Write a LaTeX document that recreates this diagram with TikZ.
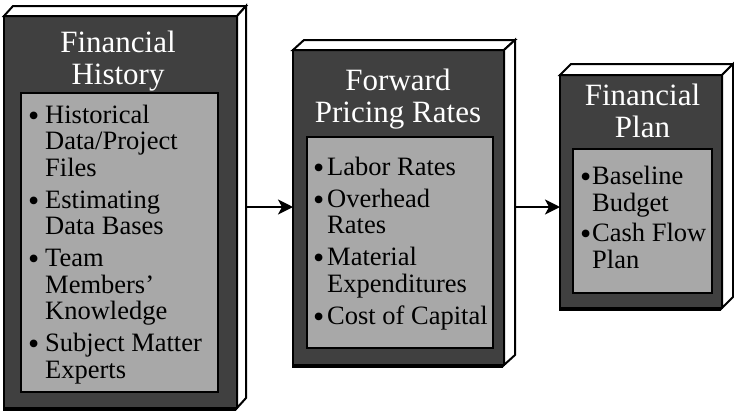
\documentclass[tikz,border=0pt]{standalone}
\usepackage{fontspec}
\setmainfont{Liberation Serif}
\usetikzlibrary{arrows.meta,calc}
\definecolor{facegray}{HTML}{404040}
\definecolor{innergray}{HTML}{A8A8A8}
\newcommand{\titlelines}[1]{\begin{tabular}[t]{@{}c@{}}#1\end{tabular}}
\newcommand{\itemlines}[1]{\begin{tabular}[t]{@{}l@{}}#1\end{tabular}}
\newcommand{\bigbul}[1]{\makebox[#1][l]{\smash{\raisebox{-3pt}{\fontsize{32}{32}\selectfont •}}}}
\tikzset{
  front/.style={draw=black,line width=2pt,fill=facegray,inner sep=0,outer sep=0,rectangle},
  inner/.style={draw=black,line width=2pt,fill=innergray,inner sep=0,outer sep=0,rectangle},
  panel/.style={draw=black,line width=2pt,fill=white,line join=miter},
  shadowbox/.style={fill=black},
  title/.style={anchor=base,inner sep=0,text=white,font=\fontsize{31}{32}\selectfont},
  itemtext/.style={anchor=base west,inner sep=0,font=\fontsize{26.5}{26.5}\selectfont},
  flow/.style={line width=2pt,-{Stealth[length=15pt,width=15pt,inset=4pt]}}
}
\begin{document}
\begin{tikzpicture}[x=1pt,y=-1pt]
\useasboundingbox (0,0) rectangle (734,413);
% ---------- Box 1 ----------
\fill[shadowbox] (3,19) rectangle (236,411);
\node[front,minimum width=233pt,minimum height=392pt] (fh) at (120.5,212) {};
\draw[panel] (fh.north west) -- ++(9,-10) -- ($(fh.north east)+(9,-10)$) -- (fh.north east) -- cycle;
\draw[panel] (fh.north east) -- ++(9,-10) -- ($(fh.south east)+(9,-10)$) -- (fh.south east) -- cycle;
\node[inner,minimum width=197pt,minimum height=299pt] (fhi) at (119.5,242.5) {};
\node[title] (fht) at (118,52) {\titlelines{Financial\\History}};
\node[itemtext] (fh1) at (28,123) {\itemlines{\bigbul{17pt}Historical\\\hspace*{17pt}Data/Project\\\hspace*{17pt}Files}};
\node[itemtext] (fh2) at (28,208) {\itemlines{\bigbul{17pt}Estimating\\\hspace*{17pt}Data Bases}};
\node[itemtext] (fh3) at (28,266.5) {\itemlines{\bigbul{17pt}Team\\\hspace*{17pt}Members’\\\hspace*{17pt}Knowledge}};
\node[itemtext] (fh4) at (28,351.5) {\itemlines{\bigbul{17pt}Subject Matter\\\hspace*{17pt}Experts}};
% ---------- Box 2 ----------
\fill[shadowbox] (292,53) rectangle (503,368);
\node[front,minimum width=211pt,minimum height=315pt] (fp) at (398.5,207.5) {};
\draw[panel] (fp.north west) -- ++(11,-10) -- ($(fp.north east)+(11,-10)$) -- (fp.north east) -- cycle;
\draw[panel] (fp.north east) -- ++(11,-10) -- ($(fp.south east)+(11,-10)$) -- (fp.south east) -- cycle;
\node[inner,minimum width=186pt,minimum height=211pt] (fpi) at (400,242.5) {};
\node[title] (fpt) at (398,90) {\titlelines{Forward\\Pricing Rates}};
\node[itemtext] (fp1) at (313,175) {\itemlines{\bigbul{14pt}Labor Rates}};
\node[itemtext] (fp2) at (313,207) {\itemlines{\bigbul{14pt}Overhead\\\hspace*{14pt}Rates}};
\node[itemtext] (fp3) at (313,265.5) {\itemlines{\bigbul{14pt}Material\\\hspace*{14pt}Expenditures}};
\node[itemtext] (fp4) at (313,324) {\itemlines{\bigbul{14pt}Cost of Capital}};
% ---------- Box 3 ----------
\fill[shadowbox] (559,78) rectangle (721,311);
\node[front,minimum width=162pt,minimum height=233pt] (fl) at (641,191.5) {};
\draw[panel] (fl.north west) -- ++(11,-11) -- ($(fl.north east)+(11,-11)$) -- (fl.north east) -- cycle;
\draw[panel] (fl.north east) -- ++(11,-11) -- ($(fl.south east)+(11,-11)$) -- (fl.south east) -- cycle;
\node[inner,minimum width=139pt,minimum height=144pt] (fli) at (642.5,221) {};
\node[title] (flt) at (642.5,105.5) {\titlelines{Financial\\Plan}};
\node[itemtext] (fl1) at (580,184.5) {\itemlines{\bigbul{12pt}Baseline\\\hspace*{12pt}Budget}};
\node[itemtext] (fl2) at (580,241.5) {\itemlines{\bigbul{12pt}Cash Flow\\\hspace*{12pt}Plan}};
% ---------- Arrows ----------
\coordinate (a1) at (247,207);
\coordinate (a2) at (516,207);
\draw[flow] (a1) -- (fp.west |- a1);
\draw[flow] (a2) -- (fl.west |- a2);
\end{tikzpicture}
\end{document}
